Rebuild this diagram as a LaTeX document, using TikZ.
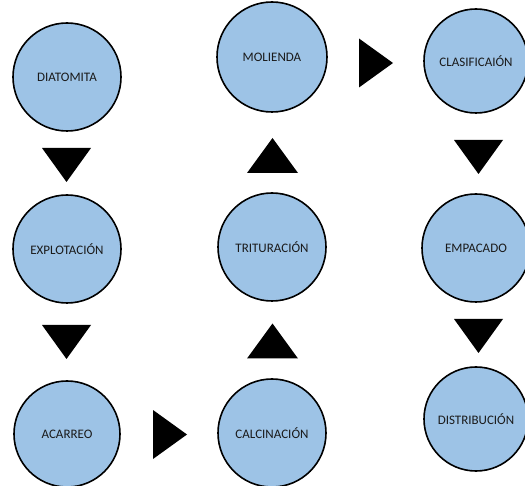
\documentclass[tikz,border=0pt]{standalone}
\usepackage{fontspec}
\setmainfont{Carlito}
\definecolor{stepfill}{HTML}{9DC3E6}
\definecolor{steptext}{HTML}{1A1A1A}
\begin{document}
\begin{tikzpicture}[x=1pt,y=-1pt,
  stepcircle/.style={circle, draw=black, line width=1.6pt, fill=stepfill, text=steptext,
    inner sep=0pt, font=\fontsize{13}{15}\selectfont},
  tridown/.pic={\fill[black] (-24.5,-17) -- (24.5,-17) -- (0,17) -- cycle;},
  triup/.pic={\fill[black] (-25.5,17.5) -- (25.5,17.5) -- (0,-17.5) -- cycle;},
  triright/.pic={\fill[black] (-17,-24.5) -- (-17,24.5) -- (17,0) -- cycle;}
]
\useasboundingbox (0,0) rectangle (525,486);
\node[stepcircle, minimum size=108pt] (dia) at (67,77) {DIATOMITA};
\node[stepcircle, minimum size=108pt] (exp) at (67,249) {EXPLOTACIÓN};
\node[stepcircle, minimum size=106pt] (aca) at (67,434) {ACARREO};
\node[stepcircle, minimum size=108pt] (cal) at (272,433) {CALCINACIÓN};
\node[stepcircle, minimum size=108pt] (tri) at (272,247) {TRITURACIÓN};
\node[stepcircle, minimum size=110pt] (mol) at (272,57) {MOLIENDA};
\node[stepcircle, minimum size=104pt] (cla) at (476,61) {CLASIFICAIÓN};
\node[stepcircle, minimum size=108pt] (emp) at (476,248) {EMPACADO};
\node[stepcircle, minimum size=104pt] (dis) at (476,419) {DISTRIBUCIÓN};
\pic at (66.5,165) {tridown};
\pic at (66.5,342) {tridown};
\pic at (272.5,155.5) {triup};
\pic at (272.5,341) {triup};
\pic at (478.5,157) {tridown};
\pic at (478.5,336) {tridown};
\pic at (376,63) {triright};
\pic at (170,434.5) {triright};
\end{tikzpicture}
\end{document}
